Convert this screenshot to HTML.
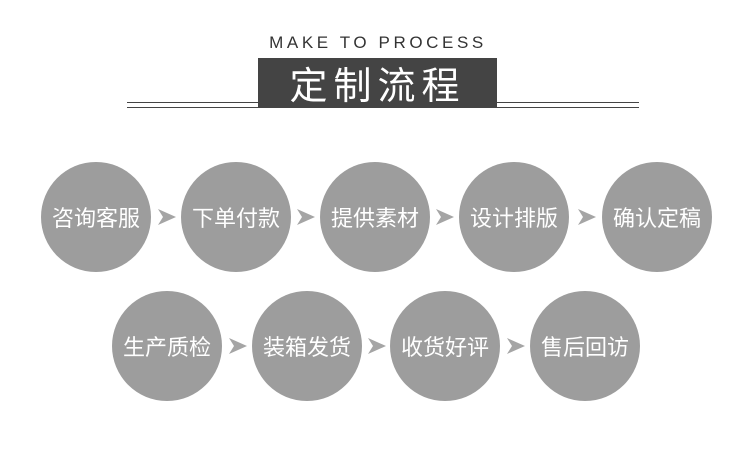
<!DOCTYPE html>
<html><head><meta charset="utf-8"><style>
body{margin:0;width:750px;height:473px;background:#fff;position:relative;overflow:hidden;font-family:"Liberation Sans","Noto Sans CJK SC",sans-serif}
.t{position:absolute;left:0;width:750px;text-align:center;top:33px;font-size:17px;letter-spacing:3.6px;color:#333;padding-left:6px;box-sizing:border-box}
.ln{position:absolute;left:127px;width:512px;height:1px;background:#444}
.box{position:absolute;left:258px;top:58px;width:239px;height:50px;background:#444;color:#fff;font-size:38px;text-align:center;line-height:50px;letter-spacing:6px;font-family:"Noto Sans CJK SC",sans-serif}
.c{position:absolute;width:110px;height:110px;border-radius:50%;background:#9d9d9d;color:#fff;font-size:22px;line-height:110px;text-align:center;font-family:"Noto Sans CJK SC",sans-serif}
.a{position:absolute;width:18px;height:16px}
</style></head><body>
<div class="t">MAKE TO PROCESS</div>
<div class="ln" style="top:102px"></div>
<div class="ln" style="top:107px"></div>
<div class="box">定制流程</div>
<div class="c" style="left:41px;top:162px">咨询客服</div>
<div class="c" style="left:181px;top:162px">下单付款</div>
<div class="c" style="left:320px;top:162px">提供素材</div>
<div class="c" style="left:459px;top:162px">设计排版</div>
<div class="c" style="left:602px;top:162px">确认定稿</div>
<svg class="a" style="left:158px;top:209px" viewBox="0 0 18 16"><path d="M0 0L18 8L0 16L5 8Z" fill="#a5a5a5"/></svg>
<svg class="a" style="left:297px;top:209px" viewBox="0 0 18 16"><path d="M0 0L18 8L0 16L5 8Z" fill="#a5a5a5"/></svg>
<svg class="a" style="left:436px;top:209px" viewBox="0 0 18 16"><path d="M0 0L18 8L0 16L5 8Z" fill="#a5a5a5"/></svg>
<svg class="a" style="left:578px;top:209px" viewBox="0 0 18 16"><path d="M0 0L18 8L0 16L5 8Z" fill="#a5a5a5"/></svg>
<div class="c" style="left:112px;top:291px">生产质检</div>
<div class="c" style="left:252px;top:291px">装箱发货</div>
<div class="c" style="left:390px;top:291px">收货好评</div>
<div class="c" style="left:530px;top:291px">售后回访</div>
<svg class="a" style="left:229px;top:338px" viewBox="0 0 18 16"><path d="M0 0L18 8L0 16L5 8Z" fill="#a5a5a5"/></svg>
<svg class="a" style="left:368px;top:338px" viewBox="0 0 18 16"><path d="M0 0L18 8L0 16L5 8Z" fill="#a5a5a5"/></svg>
<svg class="a" style="left:507px;top:338px" viewBox="0 0 18 16"><path d="M0 0L18 8L0 16L5 8Z" fill="#a5a5a5"/></svg>
</body></html>
